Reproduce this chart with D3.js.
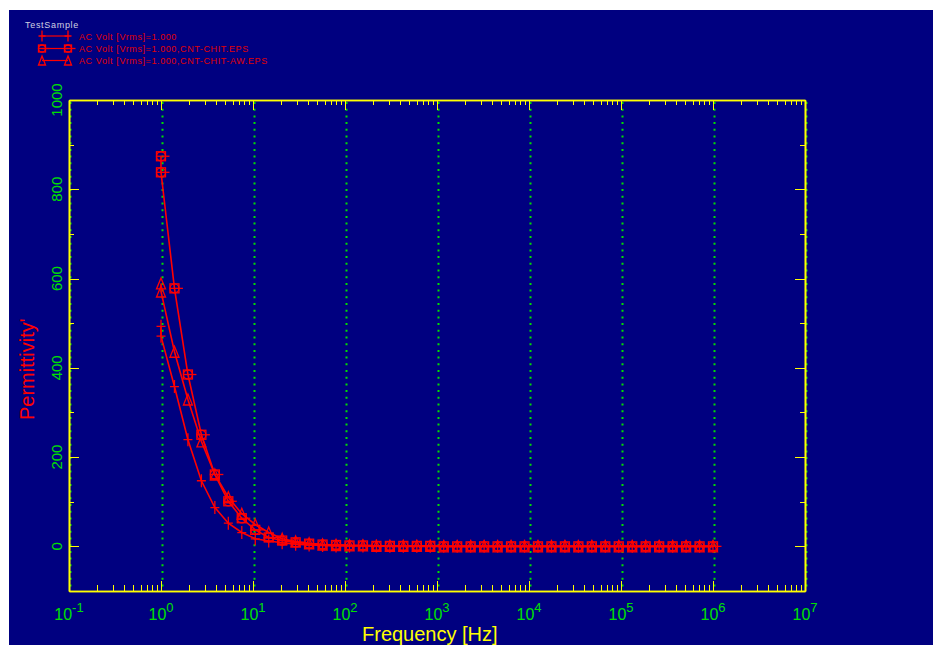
<!DOCTYPE html>
<html>
<head>
<meta charset="utf-8">
<title>Permittivity</title>
<script src="https://cdnjs.cloudflare.com/ajax/libs/d3/7.8.5/d3.min.js"></script>
<style>
  body { margin: 0; background: #fff; }
  svg { display: block; font-family: "Liberation Sans", Arial, sans-serif; }
</style>
</head>
<body>
<div id="chart"></div>
<script>
// sweep frequencies [Hz] (1 Hz measured twice)
var freqs = [1, 1, 1.4007, 1.962, 2.7482, 3.8494, 5.3919, 7.5525, 10.579, 14.818, 20.756,
  29.073, 40.722, 57.04, 79.90, 111.9, 156.7, 219.5, 307.5, 430.7, 603.3,
  845.0, 1183.6, 1657.9, 2322.3, 3252.9, 4556.4, 6382, 8939, 12521, 17539,
  24567, 34411, 48200, 67514, 94568, 132460, 185540, 259890, 364030, 509900,
  714230, 1000000];

var plainVals = [493, 471, 358, 239, 147, 87, 52, 31, 17, 12, 8, 5, 3, 2, 1, 1, 1, 1,
  0, 0, 0, 0, 0, 0, 0, 0, 0, 0, 0, 0, 0, 0, 0, 0, 0, 0, 0, 0, 0, 0, 0, 0, 0];
var chitVals = [874, 838, 578, 385, 250, 161, 101, 63, 37, 20, 13, 9, 6, 4, 3, 2, 2,
  1, 1, 1, 1, 1, 0, 0, 0, 0, 0, 0, 0, 0, 0, 0, 0, 0, 0, 0, 0, 0, 0, 0, 0, 0, 0];
var chitAwVals = [589, 571, 436, 329, 235, 161, 110, 73, 49, 31, 17, 11, 7, 4, 3, 2, 2,
  1, 1, 1, 1, 1, 0, 0, 0, 0, 0, 0, 0, 0, 0, 0, 0, 0, 0, 0, 0, 0, 0, 0, 0, 0, 0];

var seriesNames = ["AC Volt [Vrms]=1.000",
                   "AC Volt [Vrms]=1.000,CNT-CHIT.EPS",
                   "AC Volt [Vrms]=1.000,CNT-CHIT-AW.EPS"];
var seriesMarkers = ["plus", "boxcircle", "triangle"];
var seriesVals = [plainVals, chitVals, chitAwVals];

var decadeExps = [-1, 0, 1, 2, 3, 4, 5, 6, 7];
var yMajor = [0, 200, 400, 600, 800, 1000];

var width = 933, height = 645;
var red = "#ff0000", yellow = "#ffff00", green = "#00e000", navy = "#000080";

var svg = d3.select("#chart").append("svg")
    .attr("width", width)
    .attr("height", height);

svg.append("rect")
    .attr("x", 9).attr("y", 10)
    .attr("width", width - 9).attr("height", height - 10)
    .attr("fill", navy);

var x = d3.scaleLog().domain([0.1, 1e7]).range([69, 805]);
var y = d3.scaleLinear().domain([-100, 1000]).range([591, 100]);

var decades = decadeExps.map(function(e) { return Math.pow(10, e); });
var minorX = [];
decadeExps.slice(0, -1).forEach(function(e) {
  for (var m = 2; m <= 9; m++) minorX.push(m * Math.pow(10, e));
});
var minorY = [-100, 100, 300, 500, 700, 900];

// vertical dotted grid at decades
svg.append("g").selectAll("line")
    .data(decades)
  .enter().append("line")
    .attr("x1", function(d) { return x(d) + 1.5; })
    .attr("x2", function(d) { return x(d) + 1.5; })
    .attr("y1", y(1000) + 2)
    .attr("y2", y(-100))
    .attr("stroke", green)
    .attr("stroke-width", 2)
    .attr("stroke-dasharray", "2,4.7");

function styleAxis(g) {
  g.selectAll("path").attr("stroke", yellow).attr("stroke-width", 1.6);
  g.selectAll("line").attr("stroke", yellow).attr("shape-rendering", "crispEdges");
  g.selectAll("text").remove();
}

// bottom / top axes
svg.append("g").attr("transform", "translate(0," + y(-100) + ")")
    .call(d3.axisBottom(x).tickValues(decades).tickSizeInner(-10).tickSizeOuter(0).tickFormat(""))
    .call(styleAxis);
svg.append("g").attr("transform", "translate(0," + y(-100) + ")")
    .call(d3.axisBottom(x).tickValues(minorX).tickSizeInner(-6).tickSizeOuter(0).tickFormat(""))
    .call(styleAxis);
svg.append("g").attr("transform", "translate(0," + y(1000) + ")")
    .call(d3.axisTop(x).tickValues(decades).tickSizeInner(-10).tickSizeOuter(0).tickFormat(""))
    .call(styleAxis);
svg.append("g").attr("transform", "translate(0," + y(1000) + ")")
    .call(d3.axisTop(x).tickValues(minorX).tickSizeInner(-5).tickSizeOuter(0).tickFormat(""))
    .call(styleAxis);

// left / right axes
svg.append("g").attr("transform", "translate(" + x(0.1) + ",0)")
    .call(d3.axisLeft(y).tickValues(yMajor).tickSizeInner(-10).tickSizeOuter(0).tickFormat(""))
    .call(styleAxis);
svg.append("g").attr("transform", "translate(" + x(0.1) + ",0)")
    .call(d3.axisLeft(y).tickValues(minorY).tickSizeInner(-5).tickSizeOuter(0).tickFormat(""))
    .call(styleAxis);
svg.append("g").attr("transform", "translate(" + x(1e7) + ",0)")
    .call(d3.axisRight(y).tickValues(yMajor).tickSizeInner(-10).tickSizeOuter(0).tickFormat(""))
    .call(styleAxis);
svg.append("g").attr("transform", "translate(" + x(1e7) + ",0)")
    .call(d3.axisRight(y).tickValues(minorY).tickSizeInner(-5).tickSizeOuter(0).tickFormat(""))
    .call(styleAxis);

// x tick labels 10^n
var xl = svg.append("g").selectAll("text")
    .data(decadeExps)
  .enter().append("text")
    .attr("x", function(d) { return x(Math.pow(10, d)); })
    .attr("y", 620)
    .attr("text-anchor", "middle")
    .attr("fill", green)
    .attr("font-size", 16);
xl.append("tspan").text("10");
xl.append("tspan")
    .attr("dy", -8)
    .attr("font-size", 13)
    .text(function(d) { return d; });

// y tick labels, rotated
svg.append("g").selectAll("text")
    .data(yMajor)
  .enter().append("text")
    .attr("transform", function(d) { return "translate(62," + y(d) + ") rotate(-90)"; })
    .attr("text-anchor", "middle")
    .attr("fill", green)
    .attr("font-size", 15)
    .text(function(d) { return d; });

// axis titles
svg.append("text")
    .attr("x", 362).attr("y", 641)
    .attr("fill", yellow)
    .attr("font-size", 20)
    .text("Frequency [Hz]");
svg.append("text")
    .attr("transform", "translate(34,420) rotate(-90)")
    .attr("fill", red)
    .attr("font-size", 20)
    .text("Permittivity'");

// markers
function drawMarker(g, type, size) {
  var s = size / 2;
  if (type == "plus") {
    g.append("path").attr("d", "M" + (-s) + ",0H" + s + "M0," + (-s - 2) + "V" + (s + 2));
  } else if (type == "boxcircle") {
    g.append("rect").attr("x", -s).attr("y", -s).attr("width", size).attr("height", size);
    g.append("circle").attr("r", s);
    g.append("path").attr("d", "M" + (-s) + ",0H" + (s + 4));
  } else {
    g.append("path").attr("d", "M0," + (-s - 1) + "L" + s + "," + (s + 1) + "H" + (-s) + "Z");
  }
  g.attr("fill", "none").attr("stroke", red).attr("stroke-width", 1.3);
}

var line = d3.line()
    .x(function(d) { return x(d.f); })
    .y(function(d) { return y(d.v); });

seriesVals.forEach(function(vals, i) {
  var pts = vals.map(function(v, j) { return { f: freqs[j], v: v }; });
  svg.append("path")
      .datum(pts)
      .attr("d", line)
      .attr("fill", "none")
      .attr("stroke", red)
      .attr("stroke-width", 1.6);
  svg.append("g").selectAll("g")
      .data(pts)
    .enter().append("g")
      .attr("transform", function(d) { return "translate(" + x(d.f) + "," + y(d.v) + ")"; })
      .each(function() { drawMarker(d3.select(this), seriesMarkers[i], 9); });
});

// legend
svg.append("text")
    .attr("x", 25).attr("y", 28)
    .attr("fill", "#d0d0e0")
    .attr("font-size", 9)
    .attr("letter-spacing", 0.7)
    .text("TestSample");

var legendY = [36, 48.5, 60.5];
seriesNames.forEach(function(name, i) {
  var ly = legendY[i];
  svg.append("line")
      .attr("x1", 42).attr("x2", 68)
      .attr("y1", ly).attr("y2", ly)
      .attr("stroke", red).attr("stroke-width", 1.2);
  [42, 68].forEach(function(mx) {
    var g = svg.append("g").attr("transform", "translate(" + mx + "," + ly + ")");
    drawMarker(g, seriesMarkers[i], 7);
  });
  svg.append("text")
      .attr("x", 79).attr("y", ly + 3.5)
      .attr("fill", "#e00000")
      .attr("font-size", 9)
      .attr("letter-spacing", 0.6)
      .text(name);
});
</script>
</body>
</html>
